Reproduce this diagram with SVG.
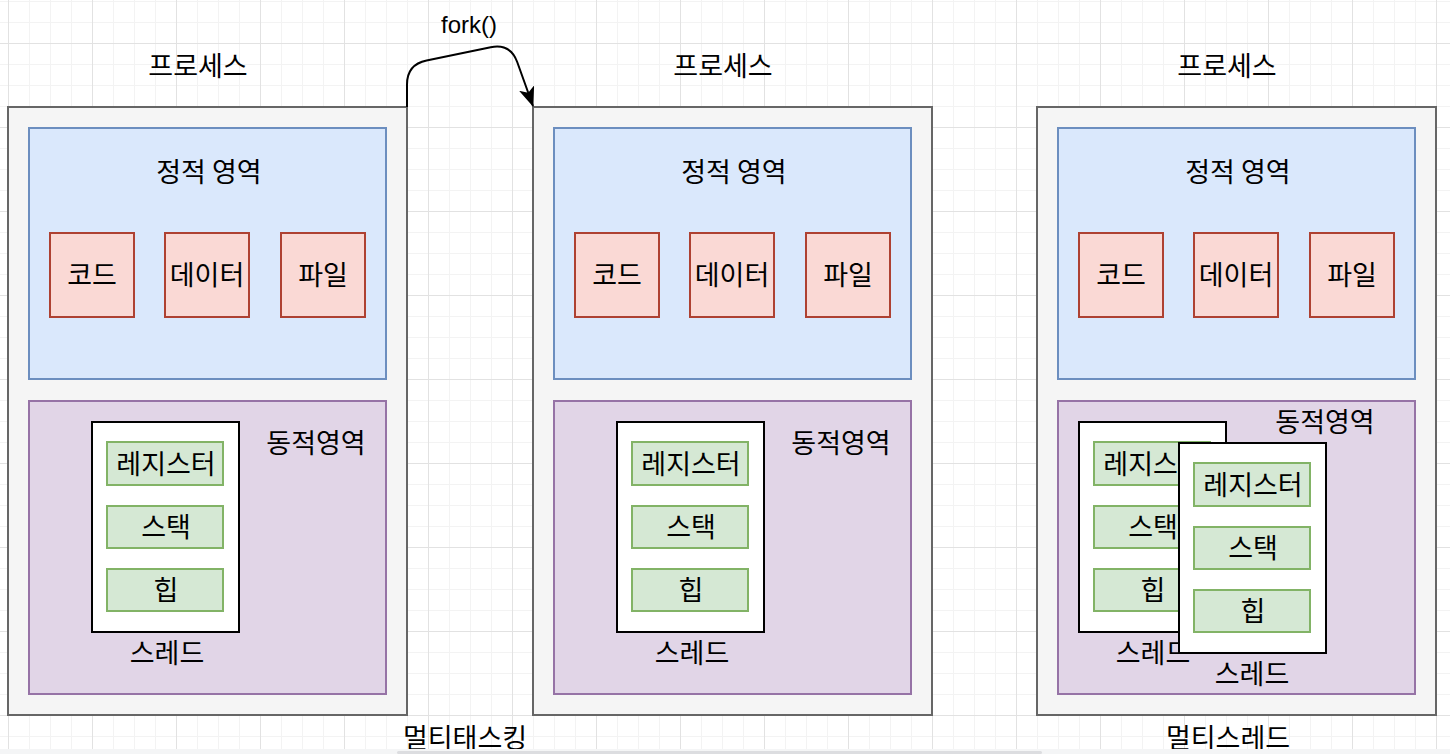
<svg xmlns="http://www.w3.org/2000/svg" width="1450" height="754" viewBox="0 0 1450 754">
<style>
.proc{fill:#f5f5f5;stroke:#666666;stroke-width:2}
.static{fill:#dae8fc;stroke:#6c8ebf;stroke-width:2}
.dyn{fill:#e1d5e7;stroke:#9673a6;stroke-width:2}
.red{fill:#fad9d5;stroke:#ae4132;stroke-width:2}
.thread{fill:#ffffff;stroke:#000000;stroke-width:2}
.green{fill:#d5e8d4;stroke:#82b366;stroke-width:2}
text{font-family:"Noto Sans CJK KR","Noto Sans",sans-serif;font-size:27px;fill:#000000;text-anchor:middle}
.latin{font-family:"Liberation Sans",Arial,sans-serif;font-size:24px}
.edge{fill:none;stroke:#000000;stroke-width:2}
</style>
<defs>
<pattern id="grid" patternUnits="userSpaceOnUse" x="8" y="-41" width="84" height="84">
<path d="M21.5 0V84M42.5 0V84M63.5 0V84M0 21.5H84M0 42.5H84M0 63.5H84" stroke="#f3f3f3" stroke-width="1" fill="none"/>
<path d="M0.5 0V84M0 0.5H84" stroke="#e2e2e2" stroke-width="1" fill="none"/>
</pattern>
<marker id="arrow" markerUnits="userSpaceOnUse" viewBox="0 0 20 16" refX="19" refY="8" markerWidth="20" markerHeight="16" orient="auto">
<path d="M0 0L20 8L0 16L5 8Z" fill="#000000"/>
</marker>
</defs>
<rect width="1450" height="754" fill="#ffffff"/>
<rect width="1450" height="754" fill="url(#grid)"/>

<g id="process1">
<text x="198" y="76">프로세스</text>
<rect class="proc" x="8" y="107" width="399" height="608"/>
<g id="process1-static">
<rect class="static" x="29" y="128" width="357" height="251"/>
<text x="209" y="182">정적 영역</text>
</g>
<g id="process1-code"><rect class="red" x="50" y="233" width="84" height="84"/><text x="92" y="285">코드</text></g>
<g id="process1-data"><rect class="red" x="165" y="233" width="84" height="84"/><text x="207" y="285">데이터</text></g>
<g id="process1-file"><rect class="red" x="281" y="233" width="84" height="84"/><text x="323" y="285">파일</text></g>
<g id="process1-dynamic">
<rect class="dyn" x="29" y="401" width="357" height="293"/>
<text x="316" y="453">동적영역</text>
</g>
<g id="process1-thread">
<rect class="thread" x="92" y="422" width="147" height="210"/>
<rect class="green" x="107" y="442" width="116" height="43"/><text x="166" y="474">레지스터</text>
<rect class="green" x="107" y="506" width="116" height="42"/><text x="166" y="537">스택</text>
<rect class="green" x="107" y="569" width="116" height="42"/><text x="166" y="600">힙</text>
<text x="167" y="663">스레드</text>
</g>
</g>

<g id="process2">
<text x="723" y="76">프로세스</text>
<rect class="proc" x="533" y="107" width="399" height="608"/>
<g id="process2-static">
<rect class="static" x="554" y="128" width="357" height="251"/>
<text x="734" y="182">정적 영역</text>
</g>
<g id="process2-code"><rect class="red" x="575" y="233" width="84" height="84"/><text x="617" y="285">코드</text></g>
<g id="process2-data"><rect class="red" x="690" y="233" width="84" height="84"/><text x="732" y="285">데이터</text></g>
<g id="process2-file"><rect class="red" x="806" y="233" width="84" height="84"/><text x="848" y="285">파일</text></g>
<g id="process2-dynamic">
<rect class="dyn" x="554" y="401" width="357" height="293"/>
<text x="841" y="453">동적영역</text>
</g>
<g id="process2-thread">
<rect class="thread" x="617" y="422" width="147" height="210"/>
<rect class="green" x="632" y="442" width="116" height="43"/><text x="691" y="474">레지스터</text>
<rect class="green" x="632" y="506" width="116" height="42"/><text x="691" y="537">스택</text>
<rect class="green" x="632" y="569" width="116" height="42"/><text x="691" y="600">힙</text>
<text x="692" y="663">스레드</text>
</g>
</g>

<g id="process3">
<text x="1227" y="76">프로세스</text>
<rect class="proc" x="1037" y="107" width="399" height="608"/>
<g id="process3-static">
<rect class="static" x="1058" y="128" width="357" height="251"/>
<text x="1238" y="182">정적 영역</text>
</g>
<g id="process3-code"><rect class="red" x="1079" y="233" width="84" height="84"/><text x="1121" y="285">코드</text></g>
<g id="process3-data"><rect class="red" x="1194" y="233" width="84" height="84"/><text x="1236" y="285">데이터</text></g>
<g id="process3-file"><rect class="red" x="1310" y="233" width="84" height="84"/><text x="1352" y="285">파일</text></g>
<g id="process3-dynamic">
<rect class="dyn" x="1058" y="401" width="357" height="293"/>
<text x="1325" y="432">동적영역</text>
</g>
<g id="process3-thread1">
<rect class="thread" x="1079" y="422" width="147" height="210"/>
<rect class="green" x="1094" y="442" width="116" height="43"/><text x="1153" y="474">레지스터</text>
<rect class="green" x="1094" y="506" width="116" height="42"/><text x="1153" y="537">스택</text>
<rect class="green" x="1094" y="569" width="116" height="42"/><text x="1153" y="600">힙</text>
<text x="1153" y="663">스레드</text>
</g>
<g id="process3-thread2">
<rect class="thread" x="1179" y="443" width="147" height="210"/>
<rect class="green" x="1194" y="463" width="116" height="43"/><text x="1253" y="495">레지스터</text>
<rect class="green" x="1194" y="527" width="116" height="42"/><text x="1253" y="558">스택</text>
<rect class="green" x="1194" y="590" width="116" height="42"/><text x="1253" y="621">힙</text>
<text x="1252" y="684">스레드</text>
</g>
</g>

<g id="label-multitasking"><text x="465" y="748">멀티태스킹</text></g>
<g id="label-multithread"><text x="1228" y="748">멀티스레드</text></g>

<g id="connectors">
<path class="edge" d="M407 107L407 84.4Q407 64.4 426.6 60.4L490.7 47.2Q510.3 43.2 517.2 62L533 106" marker-end="url(#arrow)"/>
<text class="latin" x="469" y="33">fork()</text>
</g>

<rect x="0" y="749" width="1450" height="5" fill="#f4f5f6"/>
<rect x="397" y="751" width="645" height="3" rx="1.5" fill="#dcdde0"/>
</svg>
